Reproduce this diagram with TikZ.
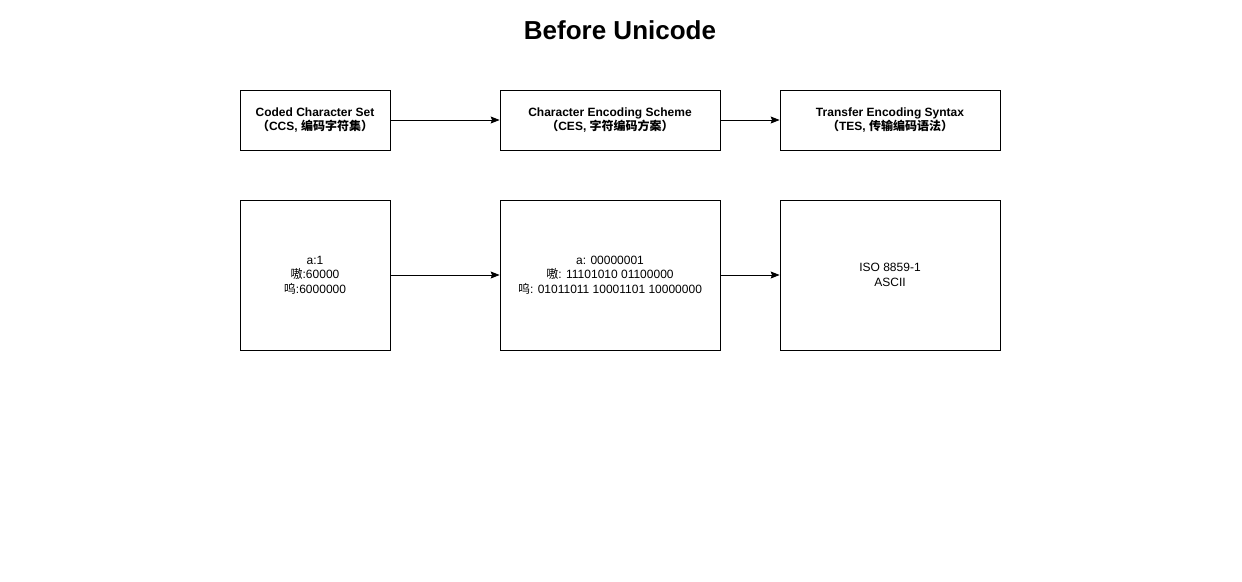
\documentclass[tikz,border=0pt]{standalone}
\usepackage{fontspec}
\setmainfont{Liberation Sans}
\newfontfamily\cjk{Noto Sans CJK SC}
\usetikzlibrary{arrows.meta}
\begin{document}
\begin{tikzpicture}[x=1pt,y=-1pt,
  box/.style={draw=black,line width=0.8pt,align=center,inner sep=0pt,font=\fontsize{12}{14.5}\selectfont},
  hdr/.style={box,font=\fontsize{12}{14.5}\selectfont\bfseries},
  conn/.style={line width=0.8pt,-{Stealth[length=9pt,width=7pt,inset=1.5pt]}}]
\useasboundingbox (0,0) rectangle (1242,581);
\node[font=\fontsize{26}{30}\selectfont\bfseries] (title) at (620,30) {Before Unicode};
\node[hdr,minimum width=150pt,minimum height=60pt] (ccs) at (315,120) {Coded Character Set\\{\cjk （}CCS, {\cjk 编码字符集）}};
\node[hdr,minimum width=220pt,minimum height=60pt] (ces) at (610,120) {Character Encoding Scheme\\{\cjk （}CES, {\cjk 字符编码方案）}};
\node[hdr,minimum width=220pt,minimum height=60pt] (tes) at (890,120) {Transfer Encoding Syntax\\{\cjk （}TES, {\cjk 传输编码语法）}};
\node[box,minimum width=150pt,minimum height=150pt] (ccsx) at (315,275) {a:1\\{\cjk 嗷}:60000\\{\cjk 呜}:6000000};
\node[box,minimum width=220pt,minimum height=150pt] (cesx) at (610,275) {a: 00000001\\{\cjk 嗷}: 11101010 01100000\\{\cjk 呜}: 01011011 10001101 10000000};
\node[box,minimum width=220pt,minimum height=150pt] (tesx) at (890,275) {ISO 8859-1\\ASCII};
\draw[conn] (ccs) -- (ces);
\draw[conn] (ces) -- (tes);
\draw[conn] (ccsx) -- (cesx);
\draw[conn] (cesx) -- (tesx);
\end{tikzpicture}
\end{document}
